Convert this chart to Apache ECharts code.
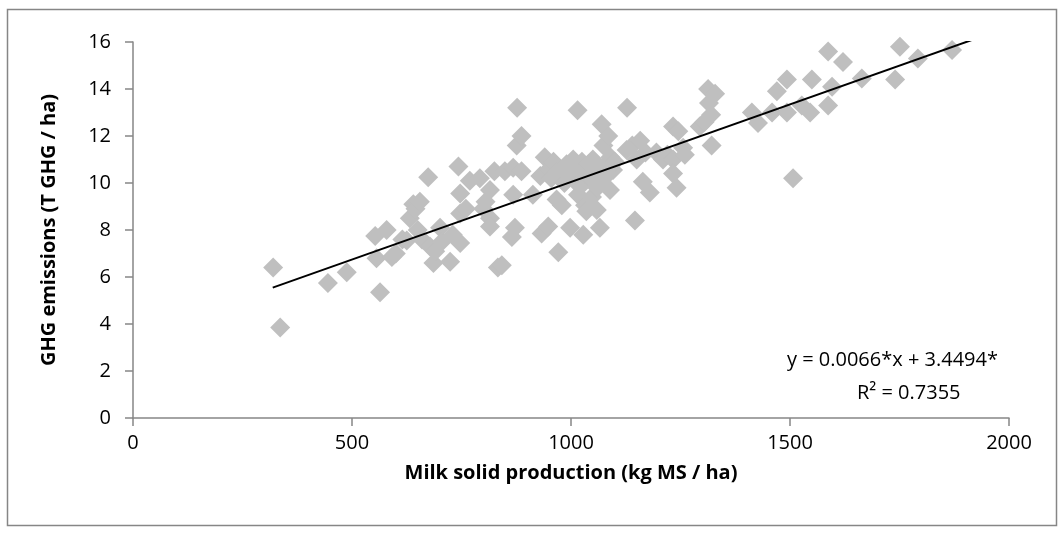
<!DOCTYPE html>
<html>
<head>
<meta charset="utf-8">
<script src="https://cdn.jsdelivr.net/npm/echarts@6/dist/echarts.min.js"></script>
<style>
html,body{margin:0;padding:0;background:#fff;}
#chart{width:1064px;height:536px;}
</style>
</head>
<body>
<div id="chart"></div>
<script>
const xTitle = 'Milk solid production (kg MS / ha)';
const yTitle = 'GHG emissions (T GHG / ha)';
const xTicks = [0, 500, 1000, 1500, 2000];
const yTicks = [0, 2, 4, 6, 8, 10, 12, 14, 16];
const equationText = 'y = 0.0066*x + 3.4494*';
const r2Text = 'R² = 0.7355';
const trendStart = [319, 5.55];
const trendEnd = [1925, 16.15];
const points = [
[320,6.4],[336,3.85],[445,5.75],[488,6.2],[553,7.75],[556,6.8],[564,5.35],[579,8.0],[591,6.85],[600,7.0],
[615,7.6],[625,7.55],[632,8.5],[640,9.1],[645,8.9],[655,9.2],[650,8.0],[660,7.6],[674,10.25],[678,7.3],
[686,6.6],[690,7.1],[701,8.1],[705,7.5],[724,6.65],[730,7.8],[743,10.7],[747,9.55],[747,8.7],[747,7.45],
[760,8.9],[769,10.1],[792,10.2],[800,8.9],[805,9.2],[815,9.7],[815,8.5],[815,8.15],[825,10.5],[833,6.4],
[842,6.5],[849,10.5],[868,10.65],[868,9.5],[865,7.7],[872,8.1],[876,11.6],[877,13.2],[887,12.0],[887,10.5],
[913,9.5],[933,7.85],[940,11.1],[948,8.15],[930,10.3],[950,10.6],[955,10.2],[960,10.9],[967,9.3],[970,10.5],
[971,7.05],[979,9.05],[985,10.0],[990,10.8],[995,10.3],[998,8.1],[1005,11.0],[1010,10.6],[1015,13.1],[1016,9.5],
[1020,10.0],[1021,9.85],[1025,10.9],[1028,7.8],[1030,10.4],[1032,9.05],[1035,8.8],[1040,10.8],[1045,10.2],[1048,9.4],
[1050,11.0],[1055,10.6],[1059,8.85],[1060,9.8],[1066,8.1],[1070,12.5],[1074,11.6],[1075,10.2],[1080,10.8],[1085,12.0],
[1089,9.7],[1090,11.1],[1096,10.55],[1100,10.9],[1127,11.4],[1128,13.2],[1140,11.6],[1146,8.4],[1150,11.0],[1158,11.8],
[1164,10.05],[1170,11.3],[1180,9.6],[1195,11.3],[1210,11.0],[1220,11.2],[1233,12.4],[1233,11.0],[1233,10.4],[1241,9.8],
[1245,12.2],[1256,11.5],[1260,11.2],[1294,12.4],[1305,12.6],[1313,14.0],[1315,13.4],[1320,12.9],[1321,11.6],[1329,13.8],
[1413,13.0],[1427,12.55],[1459,13.0],[1470,13.9],[1493,14.4],[1493,13.0],[1507,10.2],[1527,13.3],[1546,13.0],[1550,14.4],
[1587,15.6],[1587,13.3],[1596,14.1],[1621,15.15],[1664,14.45],[1740,14.4],[1751,15.8],[1792,15.3],[1870,15.66]
];

const FONT = '"Open Sans", "Noto Sans", sans-serif';
const chart = echarts.init(document.getElementById('chart'), null, {renderer: 'canvas'});
chart.setOption({
  backgroundColor: '#fff',
  animation: false,
  grid: {left: 133, right: 55, top: 42, bottom: 118, containLabel: false},
  xAxis: {
    type: 'value', min: xTicks[0], max: xTicks[xTicks.length - 1], interval: 500,
    name: xTitle, nameLocation: 'middle', nameGap: 45,
    nameTextStyle: {fontFamily: FONT, fontSize: 20, fontWeight: 'bold', color: '#000'},
    axisLine: {show: true, onZero: false, lineStyle: {color: '#868686', width: 1.5}},
    axisTick: {show: true, inside: false, length: 8, lineStyle: {color: '#868686', width: 1.5}},
    axisLabel: {fontFamily: FONT, fontSize: 20, color: '#000', margin: 15, formatter: function (v) { return String(v); }},
    splitLine: {show: false}
  },
  yAxis: {
    type: 'value', min: yTicks[0], max: yTicks[yTicks.length - 1], interval: 2,
    name: yTitle, nameLocation: 'middle', nameGap: 74, nameRotate: 90,
    nameTextStyle: {fontFamily: FONT, fontSize: 20, fontWeight: 'bold', color: '#000'},
    axisLine: {show: true, onZero: false, lineStyle: {color: '#868686', width: 1.5}},
    axisTick: {show: true, inside: false, length: 8, lineStyle: {color: '#868686', width: 1.5}},
    axisLabel: {fontFamily: FONT, fontSize: 20, color: '#000', margin: 22},
    splitLine: {show: false}
  },
  series: [
    {
      type: 'scatter',
      data: points,
      symbol: 'diamond',
      symbolSize: 20,
      itemStyle: {color: '#BFBFBF', opacity: 1},
      z: 2
    },
    {
      type: 'line',
      data: [trendStart, trendEnd],
      symbol: 'none',
      clip: true,
      lineStyle: {color: '#000', width: 2},
      z: 3
    }
  ],
  graphic: [
    {type: 'rect', shape: {x: 7.5, y: 9.5, width: 1049, height: 516}, style: {fill: 'none', stroke: '#868686', lineWidth: 1.5}, silent: true},
    {type: 'text', right: 66, top: 350, style: {text: equationText, fontFamily: FONT, fontSize: 20, fill: '#000', textAlign: 'right'}},
    {type: 'text', left: 857, top: 383, style: {text: r2Text, fontFamily: FONT, fontSize: 20, fill: '#000'}}
  ]
});
</script>
</body>
</html>
